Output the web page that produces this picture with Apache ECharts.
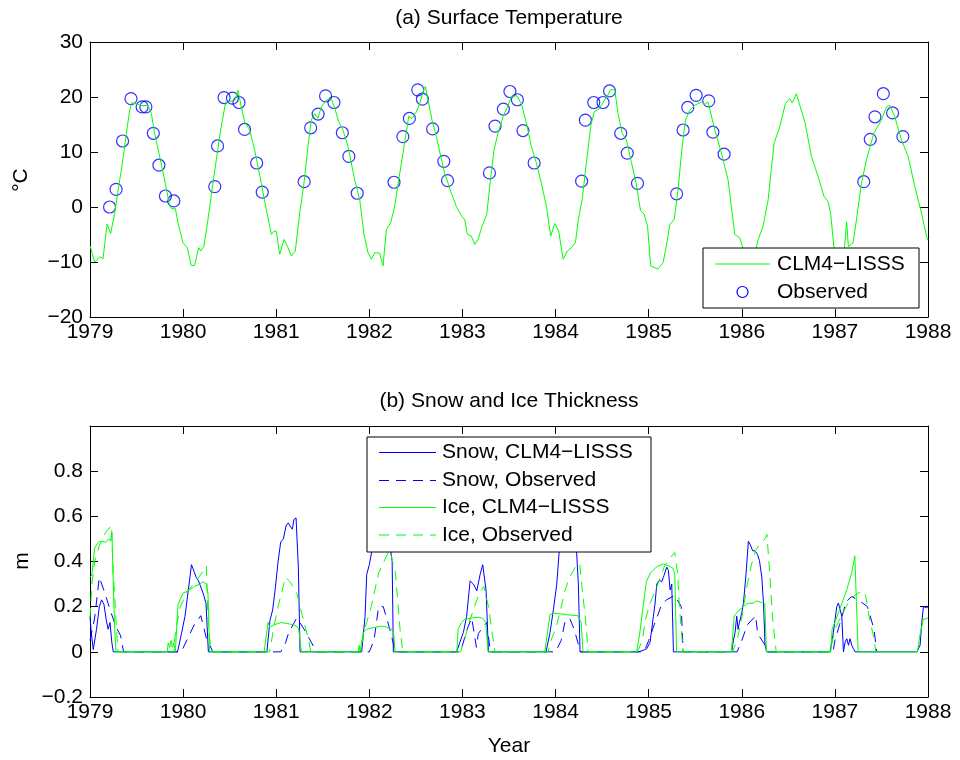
<!DOCTYPE html>
<html>
<head>
<meta charset="utf-8">
<title>Surface Temperature and Snow / Ice Thickness</title>
<script src="https://cdn.jsdelivr.net/npm/echarts@6/dist/echarts.min.js"></script>
<style>
  html, body { margin: 0; padding: 0; background: #fff; }
  #chart { width: 960px; height: 760px; }
</style>
</head>
<body>
<div id="chart"></div>
<script>
// ---------- (a) surface temperature ----------
const tempModelYear = [
  1979.0, 1979.05, 1979.104, 1979.14, 1979.183, 1979.222, 1979.265, 1979.308, 1979.354, 1979.401,
  1979.426, 1979.451, 1979.48, 1979.516, 1979.569, 1979.623, 1979.659, 1979.694, 1979.748, 1979.809,
  1979.856, 1979.881, 1979.917, 1979.945, 1979.999, 1980.045, 1980.088, 1980.124, 1980.167, 1980.189,
  1980.224, 1980.267, 1980.31, 1980.357, 1980.403, 1980.453, 1980.482, 1980.554, 1980.59, 1980.625,
  1980.661, 1980.715, 1980.768, 1980.84, 1980.894, 1980.948, 1980.976, 1981.001, 1981.037, 1981.084,
  1981.127, 1981.162, 1981.205, 1981.252, 1981.298, 1981.341, 1981.377, 1981.412, 1981.448, 1981.484,
  1981.538, 1981.592, 1981.635, 1981.671, 1981.717, 1981.771, 1981.843, 1981.897, 1981.943, 1981.986,
  1982.022, 1982.058, 1982.111, 1982.147, 1982.183, 1982.229, 1982.272, 1982.315, 1982.373, 1982.423,
  1982.459, 1982.505, 1982.541, 1982.588, 1982.602, 1982.631, 1982.673, 1982.72, 1982.767, 1982.81,
  1982.881, 1982.935, 1982.989, 1983.024, 1983.053, 1983.096, 1983.132, 1983.168, 1983.211, 1983.261,
  1983.293, 1983.339, 1983.382, 1983.436, 1983.483, 1983.526, 1983.579, 1983.633, 1983.687, 1983.74,
  1983.794, 1983.848, 1983.902, 1983.948, 1983.991, 1984.034, 1984.081, 1984.127, 1984.17, 1984.213,
  1984.244, 1984.288, 1984.336, 1984.38, 1984.415, 1984.465, 1984.52, 1984.555, 1984.59, 1984.635,
  1984.671, 1984.714, 1984.761, 1984.815, 1984.865, 1984.912, 1984.951, 1984.988, 1985.022, 1985.1,
  1985.155, 1985.19, 1985.227, 1985.273, 1985.316, 1985.352, 1985.395, 1985.441, 1985.495, 1985.567,
  1985.603, 1985.638, 1985.71, 1985.782, 1985.853, 1985.925, 1985.979, 1986.04, 1986.1, 1986.14,
  1986.176, 1986.229, 1986.283, 1986.347, 1986.408, 1986.469, 1986.516, 1986.541, 1986.587, 1986.623,
  1986.677, 1986.748, 1986.82, 1986.884, 1986.927, 1986.956, 1986.988, 1987.05, 1987.1, 1987.126,
  1987.145, 1987.196, 1987.232, 1987.285, 1987.339, 1987.42, 1987.5, 1987.554, 1987.59, 1987.643,
  1987.715, 1987.787, 1987.858, 1987.93, 1987.984, 1988.0
];
const tempModelC = [
  -7, -10, -9.1, -9.4, -3.1, -4.8, -1.1, 3.7, 8.7, 14.6,
  17.6, 19, 18.8, 18.6, 18.4, 18.5, 17, 13.4, 9.2, 4.3,
  0.1, -0.3, -0.3, -2.9, -6.5, -7.4, -10.7, -10.6, -7.4, -8,
  -7.1, -2.3, 3.1, 8.6, 14, 18.7, 19.1, 19.4, 21.2, 18.2,
  15.5, 14, 10.4, 4.3, -0.5, -5, -4.4, -4.4, -8.6, -5.9,
  -7.4, -8.9, -8, -1.1, 4.3, 11, 15.8, 17, 16.1, 18.2,
  19.4, 19.7, 17.6, 15.5, 14, 11, 4.9, 1.3, -5, -8.3,
  -9.5, -8.3, -8.4, -10.7, -4.1, -2.9, 0.1, 4.9, 11, 16.5,
  16.1, 17.3, 18.8, 21.5, 21.9, 19.4, 15.8, 12.8, 9.2, 6.1,
  2.5, 0.1, -1.6, -2.3, -5, -5.3, -6.8, -5.9, -3.5, -1.4,
  3.7, 10.4, 13.4, 16.4, 18.2, 20, 20.3, 18.8, 15.2, 11,
  8, 4.3, 0.1, -5.3, -3, -4.4, -9.5, -8, -7.4, -6.5,
  -2.4, 1.6, 8.8, 14.9, 17.3, 17.8, 19.3, 20.1, 21.3, 21.4,
  17, 13.4, 12.2, 8.1, 4.3, -0.6, -1.3, -3.5, -10.7, -11.3,
  -10.1, -7.1, -3.2, -2.3, 3.1, 9.8, 15.8, 17.6, 18.5, 19.1,
  18.7, 19.1, 14, 9.8, 4.9, -5, -5.6, -9, -10, -8.5,
  -5.9, -3.5, 1.3, 11.6, 14.6, 18.8, 19.7, 18.9, 20.6, 18.5,
  15.5, 9.2, 5.5, 1.9, 1, -1.4, -7.1, -10, -8, -2.7,
  -7.2, -6.5, -2.3, 4.3, 8.6, 13.5, 15.8, 18.2, 18.5, 16.4,
  12.2, 9.2, 3.7, -1.1, -5.3, -6
];

const tempObsYear = [
  1979.21, 1979.28, 1979.35, 1979.44, 1979.56, 1979.60, 1979.68, 1979.74, 1979.81, 1979.90,
  1980.34, 1980.37, 1980.44, 1980.53, 1980.60, 1980.66, 1980.79, 1980.85,
  1981.30, 1981.37, 1981.45, 1981.53, 1981.62, 1981.71, 1981.78, 1981.87,
  1982.265, 1982.36, 1982.43, 1982.52, 1982.57, 1982.68, 1982.80, 1982.84,
  1983.29, 1983.35, 1983.44, 1983.51, 1983.59, 1983.65, 1983.77,
  1984.28, 1984.32, 1984.41, 1984.51, 1984.58, 1984.70, 1984.77, 1984.88,
  1985.30, 1985.37, 1985.42, 1985.51, 1985.645, 1985.69, 1985.81,
  1987.31, 1987.38, 1987.43, 1987.52, 1987.62, 1987.73
];
const tempObsC = [
  0, 3.2, 12, 19.7, 18.2, 18.2, 13.4, 7.6, 2, 1.1,
  3.7, 11.1, 19.9, 19.8, 19, 14.1, 8, 2.7,
  4.6, 14.4, 16.9, 20.2, 19, 13.5, 9.2, 2.5,
  4.5, 12.8, 16.1, 21.3, 19.6, 14.2, 8.3, 4.8,
  6.2, 14.7, 17.8, 21, 19.5, 13.9, 8,
  4.7, 15.8, 19, 19, 21.1, 13.4, 9.8, 4.3,
  2.4, 14, 18.1, 20.3, 19.3, 13.6, 9.6,
  4.6, 12.3, 16.4, 20.6, 17.1, 12.8
];

// ---------- (b) snow and ice thickness ----------
const snowModelYear = [
  1979.0, 1979.015, 1979.035, 1979.07, 1979.1, 1979.125, 1979.15, 1979.175, 1979.195, 1979.215, 1979.235, 1979.25,
  1979.94, 1979.985, 1980.02, 1980.055, 1980.09, 1980.117, 1980.14, 1980.165, 1980.183, 1980.217, 1980.246, 1980.271,
  1980.9, 1980.933, 1980.962, 1980.987, 1981.02, 1981.048, 1981.077, 1981.105, 1981.13, 1981.148, 1981.173, 1981.19, 1981.213, 1981.227, 1981.238, 1981.256,
  1981.918, 1981.954, 1981.972, 1982.0, 1982.025, 1982.05, 1982.08, 1982.12, 1982.17, 1982.22, 1982.245, 1982.258,
  1982.938, 1982.973, 1983.01, 1983.045, 1983.082, 1983.118, 1983.154, 1983.19, 1983.218, 1983.236, 1983.254, 1983.279,
  1983.898, 1983.941, 1983.977, 1984.013, 1984.04, 1984.08, 1984.12, 1984.18, 1984.225, 1984.245, 1984.263,
  1984.89, 1984.944, 1984.98, 1985.015, 1985.051, 1985.069, 1985.087, 1985.115, 1985.14, 1985.158, 1985.194, 1985.212, 1985.23, 1985.248, 1985.266,
  1985.892, 1985.91, 1985.928, 1985.946, 1985.96, 1985.975, 1986.0, 1986.018, 1986.046, 1986.071, 1986.089, 1986.118, 1986.143, 1986.168, 1986.19, 1986.215, 1986.233, 1986.25, 1986.268,
  1986.948, 1986.966, 1986.984, 1987.02, 1987.038, 1987.056, 1987.074, 1987.092, 1987.11, 1987.128, 1987.146, 1987.163, 1987.181, 1987.199, 1987.217,
  1987.88, 1987.915, 1987.933, 1987.951, 1987.987, 1988.0
];
const snowModelM = [
  0.157, 0.08, 0.01, 0.1, 0.2, 0.23, 0.21, 0.14, 0.1, 0.13, 0.04, 0,
  0, 0.086, 0.157, 0.27, 0.386, 0.357, 0.33, 0.314, 0.32, 0.257, 0.214, 0,
  0, 0.14, 0.186, 0.27, 0.4, 0.486, 0.5, 0.557, 0.571, 0.557, 0.543, 0.586, 0.593, 0.586, 0.371, 0,
  0, 0.157, 0.343, 0.386, 0.443, 0.471, 0.5, 0.52, 0.5, 0.48, 0.4, 0,
  0, 0.043, 0.086, 0.157, 0.314, 0.3, 0.27, 0.343, 0.386, 0.393, 0.27, 0,
  0, 0.086, 0.187, 0.3, 0.45, 0.55, 0.56, 0.52, 0.45, 0.3, 0,
  0, 0.007, 0.014, 0.043, 0.158, 0.216, 0.3, 0.317, 0.31, 0.33, 0.375, 0.36, 0.274, 0.3, 0,
  0, 0.05, 0.086, 0.158, 0.1, 0.13, 0.173, 0.216, 0.346, 0.49, 0.476, 0.447, 0.447, 0.432, 0.404, 0.331, 0.216, 0.029, 0,
  0, 0.043, 0.086, 0.2, 0.216, 0.187, 0.158, 0, 0.043, 0.058, 0.029, 0.058, 0.029, 0.014, 0,
  0, 0.029, 0.13, 0.2, 0.195, 0.2
];

const snowObsYear = [
  1979.0, 1979.05, 1979.1, 1979.16, 1979.22, 1979.28, 1979.33, 1979.36,
  1979.98, 1980.05, 1980.12, 1980.19, 1980.25, 1980.32,
  1981.05, 1981.1, 1981.13, 1981.22, 1981.3, 1981.38, 1981.43,
  1982.0, 1982.05, 1982.1, 1982.15, 1982.22, 1982.28,
  1982.98, 1983.05, 1983.1, 1983.15, 1983.17, 1983.22, 1983.26, 1983.3,
  1984.0, 1984.06, 1984.1, 1984.15, 1984.2, 1984.24, 1984.27,
  1984.95, 1985.0, 1985.06, 1985.14, 1985.19, 1985.28, 1985.35, 1985.37,
  1985.95, 1986.0, 1986.06, 1986.15, 1986.17, 1986.25, 1986.28,
  1986.98, 1987.0, 1987.05, 1987.12, 1987.18, 1987.25, 1987.35, 1987.42, 1987.45
];
const snowObsM = [
  0.05, 0.15, 0.33, 0.26, 0.18, 0.11, 0.07, 0,
  0, 0.06, 0.12, 0.16, 0.06, 0,
  0, 0.04, 0.08, 0.15, 0.1, 0.04, 0,
  0, 0.05, 0.2, 0.2, 0.1, 0,
  0, 0.1, 0.15, 0.02, 0.08, 0.11, 0.13, 0,
  0, 0.05, 0.13, 0.15, 0.1, 0.04, 0,
  0, 0.05, 0.12, 0.21, 0.23, 0.25, 0.2, 0,
  0, 0.05, 0.12, 0.16, 0.08, 0.03, 0,
  0, 0.05, 0.12, 0.22, 0.245, 0.23, 0.2, 0.1, 0
];

const iceModelYear = [
  1979.0, 1979.02, 1979.05, 1979.09, 1979.13, 1979.17, 1979.2, 1979.22, 1979.235, 1979.25, 1979.265, 1979.28,
  1979.83, 1979.84, 1979.855, 1979.87, 1979.885, 1979.9, 1979.917, 1979.945, 1979.999, 1980.053, 1980.124, 1980.18, 1980.214, 1980.25, 1980.267, 1980.285,
  1980.87, 1980.912, 1980.93, 1980.98, 1981.05, 1981.12, 1981.19, 1981.24, 1981.27,
  1981.88, 1981.89, 1981.9, 1981.935, 1981.97, 1982.04, 1982.13, 1982.18, 1982.24, 1982.26, 1982.276,
  1982.94, 1982.953, 1982.99, 1983.02, 1983.1, 1983.17, 1983.22, 1983.25, 1983.275,
  1983.884, 1983.94, 1983.99, 1984.13, 1984.24, 1984.275, 1984.295,
  1984.87, 1984.9, 1984.94, 1984.975, 1985.02, 1985.06, 1985.1, 1985.16, 1985.22, 1985.26, 1985.28, 1985.3,
  1985.889, 1985.918, 1985.96, 1986.014, 1986.068, 1986.122, 1986.158, 1986.211, 1986.247, 1986.265,
  1986.956, 1986.97, 1986.999, 1987.053, 1987.124, 1987.178, 1987.214, 1987.25,
  1987.887, 1987.912, 1987.948, 1988.0
];
const iceModelM = [
  0.33, 0.34, 0.46, 0.485, 0.49, 0.485, 0.5, 0.49, 0.53, 0.3, 0.1, 0,
  0, 0.04, 0.02, 0.05, 0.02, 0.04, 0, 0.21, 0.26, 0.27, 0.29, 0.3, 0.31, 0.3, 0.26, 0,
  0, 0.13, 0.11, 0.12, 0.13, 0.125, 0.12, 0.106, 0,
  0, 0.03, 0, 0.086, 0.1, 0.107, 0.114, 0.11, 0.1, 0.086, 0,
  0, 0.1, 0.13, 0.143, 0.15, 0.153, 0.148, 0.13, 0,
  0, 0.164, 0.171, 0.164, 0.16, 0.13, 0,
  0, 0.07, 0.2, 0.31, 0.35, 0.367, 0.38, 0.389, 0.38, 0.37, 0.345, 0,
  0, 0.157, 0.18, 0.2, 0.215, 0.215, 0.226, 0.218, 0.215, 0,
  0, 0.1, 0.13, 0.19, 0.27, 0.345, 0.425, 0,
  0, 0.07, 0.142, 0.15
];

const iceObsYear = [
  1979.0, 1979.02, 1979.05, 1979.1, 1979.17, 1979.23, 1979.25, 1979.3,
  1979.9, 1979.92, 1979.97, 1980.05, 1980.15, 1980.22, 1980.25, 1980.27, 1980.3, 1980.32,
  1980.93, 1980.97, 1981.02, 1981.1, 1981.15, 1981.22, 1981.28, 1981.35, 1981.37,
  1981.9, 1981.95, 1982.02, 1982.1, 1982.18, 1982.22, 1982.28, 1982.33, 1982.36,
  1982.98, 1983.02, 1983.08, 1983.13, 1983.18, 1983.23, 1983.28, 1983.32, 1983.35,
  1983.92, 1983.95, 1984.0, 1984.05, 1984.1, 1984.15, 1984.22, 1984.26, 1984.28, 1984.32, 1984.35,
  1984.88, 1984.93, 1984.97, 1985.02, 1985.1, 1985.17, 1985.24, 1985.28, 1985.31, 1985.33, 1985.37,
  1985.9, 1985.95, 1986.0, 1986.05, 1986.1, 1986.15, 1986.2, 1986.25, 1986.27, 1986.3, 1986.33, 1986.37,
  1986.95, 1987.0, 1987.06, 1987.12, 1987.18, 1987.25, 1987.3, 1987.33, 1987.37, 1987.42, 1987.44
];
const iceObsM = [
  0.15, 0.3, 0.4, 0.47, 0.53, 0.56, 0.35, 0,
  0, 0.1, 0.2, 0.27, 0.32, 0.36, 0.38, 0.1, 0.02, 0,
  0, 0.1, 0.2, 0.33, 0.31, 0.26, 0.16, 0.05, 0,
  0, 0.1, 0.2, 0.35, 0.42, 0.45, 0.35, 0.1, 0,
  0, 0.05, 0.14, 0.2, 0.26, 0.29, 0.2, 0.08, 0,
  0, 0.05, 0.1, 0.18, 0.27, 0.33, 0.38, 0.39, 0.3, 0.15, 0,
  0, 0.05, 0.15, 0.22, 0.3, 0.38, 0.42, 0.44, 0.35, 0.2, 0,
  0, 0.05, 0.15, 0.28, 0.38, 0.45, 0.48, 0.5, 0.52, 0.35, 0.15, 0,
  0, 0.1, 0.15, 0.2, 0.24, 0.26, 0.27, 0.25, 0.15, 0.06, 0
];

// ---------- axes ----------
const yearTicks = { min: 1979, max: 1988, step: 1 };
const tempTicks = { min: -20, max: 30, step: 10 };
const depthTicks = { min: -0.2, max: 1.0, step: 0.2 };

const GREEN = '#00ff00';
const BLUE = '#0000ff';
const FONT = '"Liberation Sans", Arial, Helvetica, sans-serif';
const FS = 21;
const DASH = [10, 7];

const zip = (xs, ys) => xs.map((x, i) => [x, ys[i]]);
const minus = s => String(s).replace('-', '\u2212');

function xAxes(gridIndex) {
  const base = {
    gridIndex, type: 'value', min: yearTicks.min, max: yearTicks.max, interval: yearTicks.step,
    axisLine: { onZero: false, lineStyle: { color: '#000', width: 1 } },
    axisTick: { inside: true, length: 8, lineStyle: { color: '#000' } },
    splitLine: { show: false }
  };
  return [
    Object.assign({}, base, { position: 'bottom',
      axisLabel: { color: '#000', fontSize: FS, fontFamily: FONT, margin: 5, formatter: v => String(v) } }),
    Object.assign({}, base, { position: 'top', axisLabel: { show: false } })
  ];
}
function yAxes(gridIndex, ticks, decimals) {
  const fmt = v => minus(decimals ? (Math.round(v * 10) / 10).toString() : String(Math.round(v)));
  const base = {
    gridIndex, type: 'value', min: ticks.min, max: ticks.max, interval: ticks.step,
    axisLine: { onZero: false, lineStyle: { color: '#000', width: 1 } },
    axisTick: { inside: true, length: 8, lineStyle: { color: '#000' } },
    splitLine: { show: false }
  };
  return [
    Object.assign({}, base, { position: 'left',
      axisLabel: { color: '#000', fontSize: FS, fontFamily: FONT, margin: 7, formatter: fmt,
                   showMaxLabel: !decimals } }),
    Object.assign({}, base, { position: 'right', axisLabel: { show: false } })
  ];
}

const textStyle = (text, extra) => Object.assign({ text, fill: '#000', font: FS + 'px ' + FONT,
  align: 'left', verticalAlign: 'middle' }, extra || {});

const chart = echarts.init(document.getElementById('chart'), null, { renderer: 'canvas' });
chart.setOption({
  animation: false,
  backgroundColor: '#fff',
  grid: [
    { left: 90, top: 42, width: 838, height: 275 },
    { left: 90, top: 426, width: 838, height: 271 }
  ],
  xAxis: [...xAxes(0), ...xAxes(1)],
  yAxis: [...yAxes(0, tempTicks, false), ...yAxes(1, depthTicks, true)],
  series: [
    { name: 'CLM4\u2212LISSS', type: 'line', xAxisIndex: 0, yAxisIndex: 0, silent: true,
      data: zip(tempModelYear, tempModelC), symbol: 'none',
      lineStyle: { color: GREEN, width: 1 }, itemStyle: { color: GREEN } },
    { name: 'Observed', type: 'scatter', xAxisIndex: 0, yAxisIndex: 0, silent: true,
      data: zip(tempObsYear, tempObsC), symbol: 'circle', symbolSize: 12,
      itemStyle: { color: 'rgba(0,0,0,0)', borderColor: BLUE, borderWidth: 1.2 } },
    { name: 'Snow, CLM4\u2212LISSS', type: 'line', xAxisIndex: 2, yAxisIndex: 2, silent: true,
      data: zip(snowModelYear, snowModelM), symbol: 'none',
      lineStyle: { color: BLUE, width: 1 } },
    { name: 'Snow, Observed', type: 'line', xAxisIndex: 2, yAxisIndex: 2, silent: true,
      data: zip(snowObsYear, snowObsM), symbol: 'none',
      lineStyle: { color: BLUE, width: 1, type: DASH } },
    { name: 'Ice, CLM4\u2212LISSS', type: 'line', xAxisIndex: 2, yAxisIndex: 2, silent: true,
      data: zip(iceModelYear, iceModelM), symbol: 'none',
      lineStyle: { color: GREEN, width: 1 } },
    { name: 'Ice, Observed', type: 'line', xAxisIndex: 2, yAxisIndex: 2, silent: true,
      data: zip(iceObsYear, iceObsM), symbol: 'none',
      lineStyle: { color: GREEN, width: 1, type: DASH } }
  ],
  graphic: [
    // titles and axis names
    { type: 'text', x: 509, y: 18, z: 100, style: textStyle('(a) Surface Temperature', { align: 'center' }) },
    { type: 'text', x: 509, y: 401, z: 100, style: textStyle('(b) Snow and Ice Thickness', { align: 'center' }) },
    { type: 'text', x: 509, y: 746, z: 100, style: textStyle('Year', { align: 'center' }) },
    { type: 'text', x: 21, y: 180, rotation: Math.PI / 2, z: 100, style: textStyle('\u00b0C', { align: 'center' }) },
    { type: 'text', x: 22, y: 561, rotation: Math.PI / 2, z: 100, style: textStyle('m', { align: 'center' }) },

    // legend, panel (a)
    { type: 'rect', z: 100, shape: { x: 703, y: 248, width: 216, height: 60 },
      style: { fill: '#fff', stroke: '#000', lineWidth: 1 } },
    { type: 'line', z: 101, shape: { x1: 715, y1: 264, x2: 770, y2: 264 }, style: { stroke: GREEN, lineWidth: 1 } },
    { type: 'text', x: 777, y: 264, z: 101, style: textStyle('CLM4\u2212LISSS') },
    { type: 'circle', z: 101, shape: { cx: 742.5, cy: 292, r: 5.5 }, style: { fill: 'none', stroke: BLUE, lineWidth: 1.2 } },
    { type: 'text', x: 777, y: 292, z: 101, style: textStyle('Observed') },

    // legend, panel (b)
    { type: 'rect', z: 100, shape: { x: 367, y: 437, width: 284, height: 115 },
      style: { fill: '#fff', stroke: '#000', lineWidth: 1 } },
    { type: 'line', z: 101, shape: { x1: 379, y1: 452.5, x2: 436, y2: 452.5 }, style: { stroke: BLUE, lineWidth: 1 } },
    { type: 'text', x: 442, y: 452.5, z: 101, style: textStyle('Snow, CLM4\u2212LISSS') },
    { type: 'line', z: 101, shape: { x1: 379, y1: 480.5, x2: 436, y2: 480.5 }, style: { stroke: BLUE, lineWidth: 1, lineDash: DASH } },
    { type: 'text', x: 442, y: 480.5, z: 101, style: textStyle('Snow, Observed') },
    { type: 'line', z: 101, shape: { x1: 379, y1: 507.5, x2: 436, y2: 507.5 }, style: { stroke: GREEN, lineWidth: 1 } },
    { type: 'text', x: 442, y: 507.5, z: 101, style: textStyle('Ice, CLM4\u2212LISSS') },
    { type: 'line', z: 101, shape: { x1: 379, y1: 535, x2: 436, y2: 535 }, style: { stroke: GREEN, lineWidth: 1, lineDash: DASH } },
    { type: 'text', x: 442, y: 535, z: 101, style: textStyle('Ice, Observed') }
  ]
});
</script>
</body>
</html>
